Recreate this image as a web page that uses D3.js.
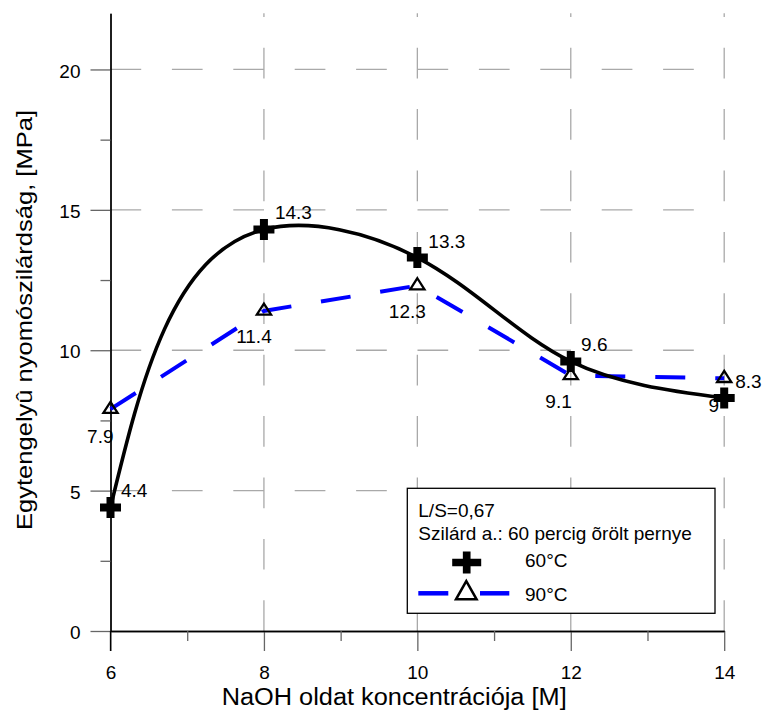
<!DOCTYPE html>
<html>
<head>
<meta charset="utf-8">
<script src="https://cdn.jsdelivr.net/npm/d3@7"></script>
<style>
  html, body { margin: 0; padding: 0; background: #fff; }
  svg text { font-family: "Liberation Sans", Arial, sans-serif; fill: #000; }
</style>
</head>
<body>
<svg id="chart" width="763" height="710"></svg>
<script>
// ---- data ----
const concentrations = [6, 8, 10, 12, 14];
const values60 = [4.4, 14.3, 13.3, 9.6, 8.3];
const values90 = [7.9, 11.4, 12.3, 9.1, 9.0];
const labels60 = ["4.4", "14.3", "13.3", "9.6", "9"];
const labels90 = ["7.9", "11.4", "12.3", "9.1", "8.3"];
const xMajorTicks = [6, 8, 10, 12, 14];
const xMinorTicks = [7, 9, 11, 13];
const yMajorTicks = [0, 5, 10, 15, 20];
const yMinorTicks = [2.5, 7.5, 12.5, 17.5];
const seriesNames = ["60°C", "90°C"];
const legendNotes = ["L/S=0,67", "Szilárd a.: 60 percig õrölt pernye"];
const xTitle = "NaOH oldat koncentrációja [M]";
const yTitle = "Egytengelyû nyomószilárdság, [MPa]";

// label placement (style only)
const place60 = [
  {dx: 10.5, dy: -10, anchor: "start"},
  {dx: 11, dy: -10.3, anchor: "start"},
  {dx: 11, dy: -9.4, anchor: "start"},
  {dx: 10.3, dy: -10, anchor: "start"},
  {dx: -5, dy: 13.7, anchor: "end"}
];
const place90 = [
  {dx: 3, dy: 34, anchor: "end"},
  {dx: -10, dy: 32.3, anchor: "middle"},
  {dx: -10, dy: 32.6, anchor: "middle"},
  {dx: 1, dy: 32.7, anchor: "end"},
  {dx: 11, dy: 10, anchor: "start"}
];

const svg = d3.select("#chart");
svg.append("rect").attr("width", 763).attr("height", 710).attr("fill", "#fff");

const x = d3.scaleLinear().domain([6, 14]).range([110.5, 724.2]);
const y = d3.scaleLinear().domain([0, 22]).range([631, 13.3]);

// ---- gridlines ----
const grid = svg.append("g").attr("stroke", "#a9a9a9").attr("stroke-width", 1.3)
  .attr("stroke-dasharray", "30.7,30.7").attr("fill", "none");
grid.selectAll("line.h").data(yMajorTicks.filter(d => d > 0)).join("line")
  .attr("class", "h")
  .attr("x1", x(6)).attr("x2", x(14))
  .attr("y1", d => y(d)).attr("y2", d => y(d));
grid.selectAll("line.v").data(xMajorTicks.filter(d => d > 6)).join("line")
  .attr("class", "v")
  .attr("x1", d => x(d)).attr("x2", d => x(d))
  .attr("y1", y(0)).attr("y2", y(22));

// ---- axes ----
function styleAxis(g) {
  g.select(".domain").attr("stroke", "#000").attr("stroke-width", 1.3);
  g.selectAll(".tick line").attr("stroke", "#666").attr("stroke-width", 1.3);
  g.selectAll(".tick text").attr("font-size", "19px").attr("fill", "#000")
    .attr("font-family", "Liberation Sans, Arial, sans-serif");
}
const yAxis = svg.append("g").attr("transform", `translate(${x(6)},0)`)
  .call(d3.axisLeft(y).tickValues(yMajorTicks).tickSize(20).tickSizeOuter(0).tickPadding(10).tickFormat(d3.format("d")));
styleAxis(yAxis);
yAxis.selectAll(".tick text").attr("dy", "0.4em");
const yAxisMinor = svg.append("g").attr("transform", `translate(${x(6)},0)`)
  .call(d3.axisLeft(y).tickValues(yMinorTicks).tickSize(10).tickSizeOuter(0).tickFormat(""));
styleAxis(yAxisMinor);

const xAxis = svg.append("g").attr("transform", `translate(0,${y(0)})`)
  .call(d3.axisBottom(x).tickValues(xMajorTicks).tickSize(20).tickSizeOuter(0).tickPadding(15).tickFormat(d3.format("d")));
styleAxis(xAxis);
const xAxisMinor = svg.append("g").attr("transform", `translate(0,${y(0)})`)
  .call(d3.axisBottom(x).tickValues(xMinorTicks).tickSize(10).tickSizeOuter(0).tickFormat(""));
styleAxis(xAxisMinor);
// extend the y axis line down through the x tick at 6
svg.append("line").attr("x1", x(6)).attr("x2", x(6)).attr("y1", y(0)).attr("y2", y(0) + 20)
  .attr("stroke", "#000").attr("stroke-width", 1.3);

// ---- axis titles ----
svg.append("text").attr("x", 221.7).attr("y", 705)
  .attr("font-size", "23px").attr("textLength", 345).attr("lengthAdjust", "spacingAndGlyphs")
  .text(xTitle);
svg.append("text").attr("transform", "translate(31.7,320) rotate(-90)")
  .attr("text-anchor", "middle")
  .attr("font-size", "22px").attr("textLength", 420).attr("lengthAdjust", "spacingAndGlyphs")
  .text(yTitle);

// ---- legend ----
const lg = svg.append("g");
lg.append("rect").attr("x", 407.3).attr("y", 488.3).attr("width", 307.7).attr("height", 125)
  .attr("fill", "#fff").attr("stroke", "#000").attr("stroke-width", 1.3);
lg.selectAll("text.note").data(legendNotes).join("text").attr("class", "note")
  .attr("x", 418.3).attr("y", (d, i) => 516.7 + i * 23.3)
  .attr("font-size", "19px").text(d => d);
lg.selectAll("text.ser").data(seriesNames).join("text").attr("class", "ser")
  .attr("x", 525).attr("y", (d, i) => 567.3 + i * 33.4)
  .attr("font-size", "19px").text(d => d);

// ---- symbols ----
function plusPath(w, h, t) {
  const a = w / 2, b = h / 2, c = t / 2;
  return `M${-c},${-b}H${c}V${-c}H${a}V${c}H${c}V${b}H${-c}V${c}H${-a}V${-c}H${-c}Z`;
}
function triPath(hw, top, base) {
  return `M0,${-top}L${hw},${base}L${-hw},${base}Z`;
}

lg.append("path").attr("transform", "translate(466.7,562.5)")
  .attr("d", plusPath(29, 22, 7.7)).attr("fill", "#000");
lg.append("line").attr("x1", 418.3).attr("x2", 448.3).attr("y1", 593.3).attr("y2", 593.3)
  .attr("stroke", "#0000ff").attr("stroke-width", 4.5);
lg.append("line").attr("x1", 480).attr("x2", 509.3).attr("y1", 593.3).attr("y2", 593.3)
  .attr("stroke", "#0000ff").attr("stroke-width", 4.5);
lg.append("path").attr("transform", "translate(466.3,593.3)")
  .attr("d", triPath(10.3, 12.2, 6)).attr("fill", "none").attr("stroke", "#000").attr("stroke-width", 2.5);

// ---- custom chord-length natural spline curve ----
function naturalDerivs(f, h) {
  const n = f.length;
  const M = new Array(n).fill(0);
  if (n > 2) {
    const m = n - 2;
    const a = [], b = [], c = [], r = [];
    for (let i = 1; i <= m; i++) {
      a.push(h[i - 1]);
      b.push(2 * (h[i - 1] + h[i]));
      c.push(h[i]);
      r.push(6 * ((f[i + 1] - f[i]) / h[i] - (f[i] - f[i - 1]) / h[i - 1]));
    }
    for (let i = 1; i < m; i++) {
      const w = a[i] / b[i - 1];
      b[i] -= w * c[i - 1];
      r[i] -= w * r[i - 1];
    }
    const sol = new Array(m);
    sol[m - 1] = r[m - 1] / b[m - 1];
    for (let i = m - 2; i >= 0; i--) sol[i] = (r[i] - c[i] * sol[i + 1]) / b[i];
    for (let i = 0; i < m; i++) M[i + 1] = sol[i];
  }
  const d = [];
  for (let i = 0; i < n - 1; i++) {
    const s = (f[i + 1] - f[i]) / h[i];
    d.push([s - h[i] * (2 * M[i] + M[i + 1]) / 6, s + h[i] * (M[i] + 2 * M[i + 1]) / 6]);
  }
  return d;
}
function curveChordNatural(context) {
  let pts = [];
  return {
    areaStart() {}, areaEnd() {},
    lineStart() { pts = []; },
    point(px, py) { pts.push([+px, +py]); },
    lineEnd() {
      const n = pts.length;
      if (!n) return;
      context.moveTo(pts[0][0], pts[0][1]);
      if (n === 2) { context.lineTo(pts[1][0], pts[1][1]); return; }
      const h = [];
      for (let i = 0; i < n - 1; i++) h.push(Math.hypot(pts[i + 1][0] - pts[i][0], pts[i + 1][1] - pts[i][1]));
      const Dx = naturalDerivs(pts.map(p => p[0]), h);
      const Dy = naturalDerivs(pts.map(p => p[1]), h);
      for (let i = 0; i < n - 1; i++) {
        context.bezierCurveTo(
          pts[i][0] + Dx[i][0] * h[i] / 3, pts[i][1] + Dy[i][0] * h[i] / 3,
          pts[i + 1][0] - Dx[i][1] * h[i] / 3, pts[i + 1][1] - Dy[i][1] * h[i] / 3,
          pts[i + 1][0], pts[i + 1][1]);
      }
    }
  };
}

const data60 = concentrations.map((c, i) => ({c, v: values60[i], label: labels60[i], p: place60[i]}));
const data90 = concentrations.map((c, i) => ({c, v: values90[i], label: labels90[i], p: place90[i]}));

// ---- 90°C series: blue dashed linear ----
svg.append("path").datum(data90)
  .attr("d", d3.line().x(d => x(d.c)).y(d => y(d.v)).curve(d3.curveLinear))
  .attr("fill", "none").attr("stroke", "#0000ff").attr("stroke-width", 4)
  .attr("stroke-dasharray", "30,30");
svg.append("g").selectAll("path").data(data90).join("path")
  .attr("transform", d => `translate(${x(d.c)},${y(d.v)})`)
  .attr("d", triPath(7.1, 7.4, 3.7)).attr("fill", "none").attr("stroke", "#000").attr("stroke-width", 2.3);

// ---- 60°C series: black smooth ----
svg.append("path").datum(data60)
  .attr("d", d3.line().x(d => x(d.c)).y(d => y(d.v)).curve(curveChordNatural))
  .attr("fill", "none").attr("stroke", "#000").attr("stroke-width", 3.6);
svg.append("g").selectAll("path").data(data60).join("path")
  .attr("transform", d => `translate(${x(d.c)},${y(d.v)})`)
  .attr("d", plusPath(21, 21, 8)).attr("fill", "#000");

// ---- data labels ----
svg.append("g").selectAll("text").data(data60.concat(data90)).join("text")
  .attr("x", d => x(d.c) + d.p.dx).attr("y", d => y(d.v) + d.p.dy)
  .attr("text-anchor", d => d.p.anchor)
  .attr("font-size", "19px").text(d => d.label);
</script>
</body>
</html>
